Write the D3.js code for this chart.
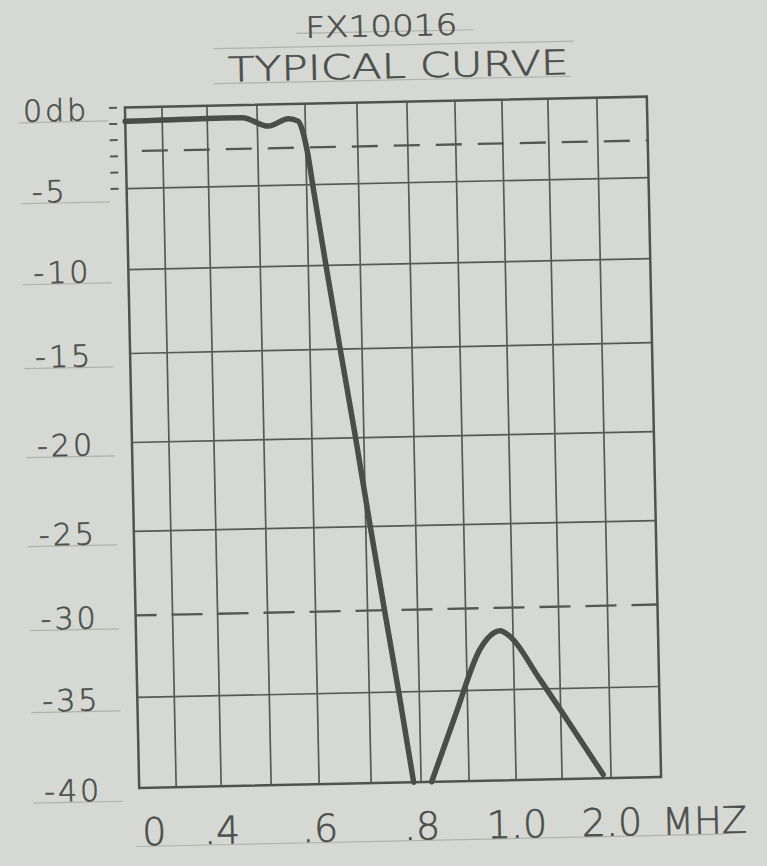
<!DOCTYPE html>
<html>
<head>
<meta charset="utf-8">
<title>FX10016</title>
<script src="https://cdn.jsdelivr.net/npm/d3@7"></script>
<style>
  body { margin: 0; background: #d6d9d3; }
  svg { display: block; }
  .txt { font-family: "DejaVu Sans", sans-serif; font-weight: 200; fill: #4b4f4b; stroke: #4b4f4b; stroke-width: 0.6; }
  .guide { stroke: #aeb2ab; stroke-width: 1.2; }
  .grid { stroke: #565a56; stroke-width: 1.7; }
  .frame { fill: none; stroke: #4f534f; stroke-width: 2.5; }
  .dashed { stroke: #535753; stroke-width: 2.3; }
  .tick { stroke: #555955; stroke-width: 2; }
  .curve { fill: none; stroke: #4a4e4b; stroke-width: 5.5; stroke-linejoin: round; stroke-linecap: round; }
</style>
</head>
<body>
<div id="chart"></div>
<script>
// Datos leídos de la hoja "FX10016 typical curve"
const titleLines = ["FX10016", "TYPICAL CURVE"]

// Eje x en MHz: la escala dibujada a mano no es uniforme
const freqGrid = [0, 0.2, 0.4, 0.5, 0.6, 0.7, 0.8, 0.9, 1.0, 1.5, 2.0, 2.5]
const freqTicks = [0, 0.4, 0.6, 0.8, 1.0, 2.0]
const freqTickLabels = ["0", ".4", ".6", ".8", "1.0", "2.0"]
const freqUnit = "MHZ"

// Eje y en db
const dbTicks = [0, -5, -10, -15, -20, -25, -30, -35, -40]
const dbTickLabels = ["0db", "-5", "-10", "-15", "-20", "-25", "-30", "-35", "-40"]
const dbSmallTicks = [0, -1, -2, -3, -4, -5]
const dbGrid = [-5, -10, -15, -20, -25, -35]
const dbDashed = [-2.7, -30]

// La curva (null = se sale por debajo de -40)
const curveFreq = [0, 0.2, 0.4, 0.47, 0.523, 0.565, 0.585, 0.595, 0.604, 0.613, 0.634, 0.658, 0.684, 0.709, 0.734, 0.759, 0.785,
                   0.8,
                   0.822, 0.875, 0.929, 0.944, 0.972, 0.993, 1.28, 1.56, 1.92]
const curveDb = [-0.85, -0.82, -0.78, -0.78, -1.33, -0.9, -1.06, -1.78, -3.2, -5.3, -10, -15, -20, -25, -30, -35, -40,
                 null,
                 -40, -36.3, -32.5, -31.9, -31.4, -31.75, -34.4, -36.7, -39.8]

// ----------------------------------------------------------

const width = 767
const height = 866
const margin = {
    top: 102,
    bottom: 83.5,
    left: 132,
    right: 113
}
const tilt = -1.2   // la hoja de la foto está un poco girada

const svg = d3.select("div#chart").append("svg")
            .attr("width", width)
            .attr("height", height)

svg.append("rect").attr("width", width).attr("height", height).attr("fill", "#d6d9d3")

// todo va dentro de la "hoja" girada
const sheet = svg.append("g").attr("id", "sheet")
            .attr("transform", `rotate(${tilt} 394 442)`)

const elementGroup = sheet.append("g").attr("id", "elementGroup")
            .attr("transform", `translate(${margin.left} ${margin.top})`)

const innerW = width - margin.left - margin.right
const innerH = height - margin.top - margin.bottom

// Escalas (rejilla hecha a mano, columnas y filas desiguales)
const scaleX = d3.scaleLinear()
            .domain(freqGrid)
            .range([0, 37, 82, 132, 180, 232, 282, 330, 377, 423, 472, innerW])
const scaleY = d3.scaleLinear()
            .domain(dbTicks)
            .range([0, 81, 162, 246, 335, 424, 508, 590, innerH])

// Título
const titleGroup = sheet.append("g").attr("id", "titleGroup")
titleGroup.append("line").attr("class", "guide").attr("x1", 305).attr("x2", 482).attr("y1", 31.5).attr("y2", 31.5)
titleGroup.append("line").attr("class", "guide").attr("x1", 222).attr("x2", 582).attr("y1", 45).attr("y2", 45)
titleGroup.append("line").attr("class", "guide").attr("x1", 221).attr("x2", 578).attr("y1", 80).attr("y2", 80)
titleGroup.append("text").attr("class", "txt").text(titleLines[0])
            .attr("x", 390).attr("y", 36)
            .attr("text-anchor", "middle")
            .attr("font-size", 29)
            .attr("textLength", 152).attr("lengthAdjust", "spacingAndGlyphs")
titleGroup.append("text").attr("class", "txt").text(titleLines[1])
            .attr("x", 406).attr("y", 78)
            .attr("text-anchor", "middle")
            .attr("font-size", 34)
            .attr("textLength", 341).attr("lengthAdjust", "spacingAndGlyphs")

// Rejilla vertical
elementGroup.selectAll("line.vgrid").data(freqGrid.slice(1, -1)).enter().append("line")
            .attr("class", "grid vgrid")
            .attr("x1", d => scaleX(d)).attr("x2", d => scaleX(d))
            .attr("y1", 0).attr("y2", innerH)

// Rejilla horizontal
elementGroup.selectAll("line.hgrid").data(dbGrid).enter().append("line")
            .attr("class", "grid hgrid")
            .attr("x1", 0).attr("x2", innerW)
            .attr("y1", d => scaleY(d)).attr("y2", d => scaleY(d))

// Líneas de trazos (-3db aprox. y -30db)
elementGroup.selectAll("line.dashed").data(dbDashed).enter().append("line")
            .attr("class", "dashed")
            .attr("x1", 0).attr("x2", innerW)
            .attr("y1", d => scaleY(d)).attr("y2", d => scaleY(d))
            .attr("stroke-dasharray", (d, i) => i == 0 ? "26,16" : "31,15")
            .attr("stroke-dashoffset", (d, i) => i == 0 ? 26 : 10)

// Marco
elementGroup.append("rect").attr("class", "frame")
            .attr("x", 0).attr("y", 0)
            .attr("width", innerW).attr("height", innerH)

// Marquitas de 1db a la izquierda
elementGroup.selectAll("line.tick").data(dbSmallTicks).enter().append("line")
            .attr("class", "tick")
            .attr("x1", -16).attr("x2", -8)
            .attr("y1", d => scaleY(d)).attr("y2", d => scaleY(d))

// Etiquetas del eje y con su raya guía
const yLabelGroup = sheet.append("g").attr("id", "yLabelGroup")
yLabelGroup.selectAll("line").data(dbTicks).enter().append("line")
            .attr("class", "guide")
            .attr("x1", 26).attr("x2", 115)
            .attr("y1", d => margin.top + scaleY(d) + 13)
            .attr("y2", d => margin.top + scaleY(d) + 13)
yLabelGroup.selectAll("text").data(dbTicks).enter().append("text")
            .attr("class", "txt")
            .text((d, i) => dbTickLabels[i])
            .attr("x", (d, i) => i == 0 ? 30 : 37)
            .attr("y", d => margin.top + scaleY(d) + 12)
            .attr("font-size", 30)
            .attr("letter-spacing", 3)

// Etiquetas del eje x
const xLabelGroup = sheet.append("g").attr("id", "xLabelGroup")
xLabelGroup.append("line").attr("class", "guide")
            .attr("x1", 128).attr("x2", 715).attr("y1", 841).attr("y2", 841)
xLabelGroup.selectAll("text").data(freqTicks).enter().append("text")
            .attr("class", "txt")
            .text((d, i) => freqTickLabels[i])
            .attr("x", (d, i) => margin.left + scaleX(d) + (i == 0 ? 2 : 0))
            .attr("y", 840)
            .attr("text-anchor", (d, i) => i == 0 ? "start" : "middle")
            .attr("font-size", 38)
xLabelGroup.append("text").attr("class", "txt").text(freqUnit)
            .attr("x", margin.left + innerW)
            .attr("y", 840)
            .attr("font-size", 37)

// La curva
const curveData = curveFreq.map((f, i) => ({freq: f, db: curveDb[i]}))
const line = d3.line()
            .defined(d => d.db !== null)
            .x(d => scaleX(d.freq))
            .y(d => scaleY(d.db))
            .curve(d3.curveMonotoneX)
elementGroup.append("path").datum(curveData)
            .attr("class", "curve")
            .attr("d", line)
</script>
</body>
</html>
